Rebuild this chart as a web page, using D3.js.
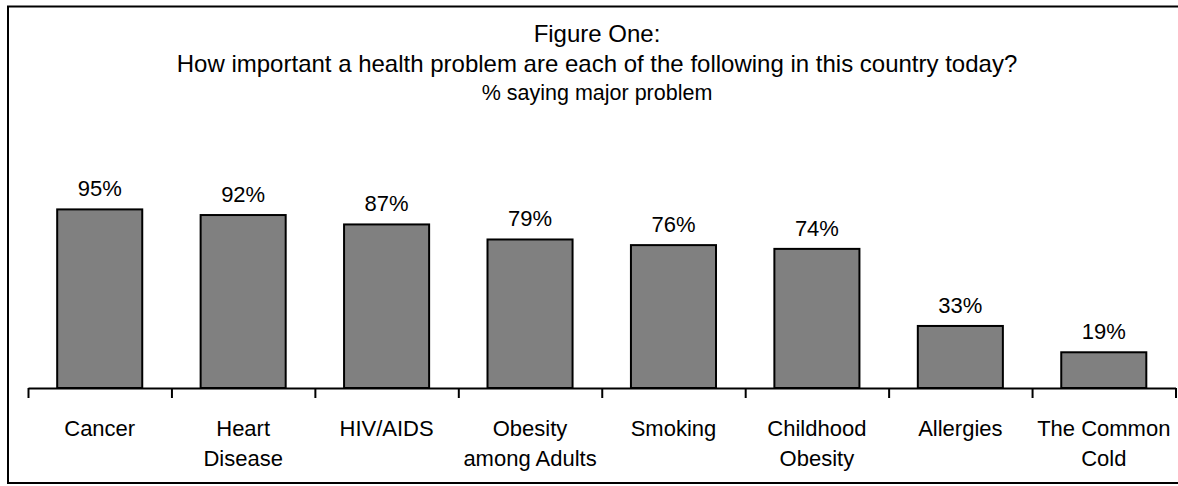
<!DOCTYPE html>
<html>
<head>
<meta charset="utf-8">
<script src="https://d3js.org/d3.v7.min.js"></script>
<style>
  html, body { margin: 0; padding: 0; background: #fff; }
  svg { display: block; }
  text { font-family: "Liberation Sans", Arial, sans-serif; fill: #000; }
</style>
</head>
<body>
<svg id="chart" width="1178" height="486"></svg>
<script>
// Survey results: share saying each item is a major health problem
const categories = ["Cancer", "Heart Disease", "HIV/AIDS", "Obesity among Adults",
                    "Smoking", "Childhood Obesity", "Allergies", "The Common Cold"];
const categoryLines = [["Cancer"], ["Heart", "Disease"], ["HIV/AIDS"], ["Obesity", "among Adults"],
                       ["Smoking"], ["Childhood", "Obesity"], ["Allergies"], ["The Common", "Cold"]];
const values = [95, 92, 87, 79, 76, 74, 33, 19];
const titleLines = ["Figure One:",
  "How important a health problem are each of the following in this country today?",
  "% saying major problem"];

const svg = d3.select("#chart");
const W = 1178, H = 486;

svg.append("rect").attr("width", W).attr("height", H).attr("fill", "#fff");

// Frame around the figure (runs past the right edge)
svg.append("rect")
  .attr("x", 8).attr("y", 6.5)
  .attr("width", 1200).attr("height", 476.5)
  .attr("fill", "none").attr("stroke", "#000").attr("stroke-width", 2);

// Titles
const cx = 597;
svg.append("text").attr("x", cx).attr("y", 41.5).attr("text-anchor", "middle")
  .attr("font-size", 24).text(titleLines[0]);
svg.append("text").attr("x", cx).attr("y", 71.5).attr("text-anchor", "middle")
  .attr("font-size", 24).text(titleLines[1]);
svg.append("text").attr("x", cx).attr("y", 99.5).attr("text-anchor", "middle")
  .attr("font-size", 21.5).text(titleLines[2]);

// Scales
const x0 = 28, x1 = 1175.5;
const x = d3.scaleBand().domain(categories).range([x0, x1])
  .paddingInner(0.407).paddingOuter(0.2035);
const y = d3.scaleLinear().domain([0, 100]).range([388, 200]);

// Bars
svg.append("g").selectAll("rect")
  .data(values)
  .join("rect")
  .attr("x", (d, i) => x(categories[i]))
  .attr("y", d => y(d))
  .attr("width", x.bandwidth())
  .attr("height", d => y(0) - y(d))
  .attr("fill", "#808080")
  .attr("stroke", "#000")
  .attr("stroke-width", 2);

// Value labels
svg.append("g").selectAll("text")
  .data(values)
  .join("text")
  .attr("x", (d, i) => x(categories[i]) + x.bandwidth() / 2)
  .attr("y", d => y(d) - 13)
  .attr("text-anchor", "middle")
  .attr("font-size", 22)
  .text(d => d + "%");

// Category axis: ticks at band boundaries
const boundary = d3.scaleLinear().domain([0, categories.length]).range([x0, x1]);
const axis = svg.append("g")
  .attr("transform", `translate(0,${y(0)})`)
  .call(d3.axisBottom(boundary)
    .tickValues(d3.range(categories.length + 1))
    .tickFormat("")
    .tickSizeInner(10)
    .tickSizeOuter(0));
axis.select(".domain").attr("stroke", "#000").attr("stroke-width", 2);
axis.selectAll(".tick line").attr("stroke", "#000").attr("stroke-width", 2);

// Category labels
const labels = svg.append("g").selectAll("text")
  .data(categoryLines)
  .join("text")
  .attr("x", (d, i) => x(categories[i]) + x.bandwidth() / 2)
  .attr("y", 436)
  .attr("text-anchor", "middle")
  .attr("font-size", 22);
labels.selectAll("tspan")
  .data(d => d)
  .join("tspan")
  .attr("x", function () { return d3.select(this.parentNode).attr("x"); })
  .attr("dy", (d, i) => i === 0 ? 0 : 29.5)
  .text(d => d);
</script>
</body>
</html>
